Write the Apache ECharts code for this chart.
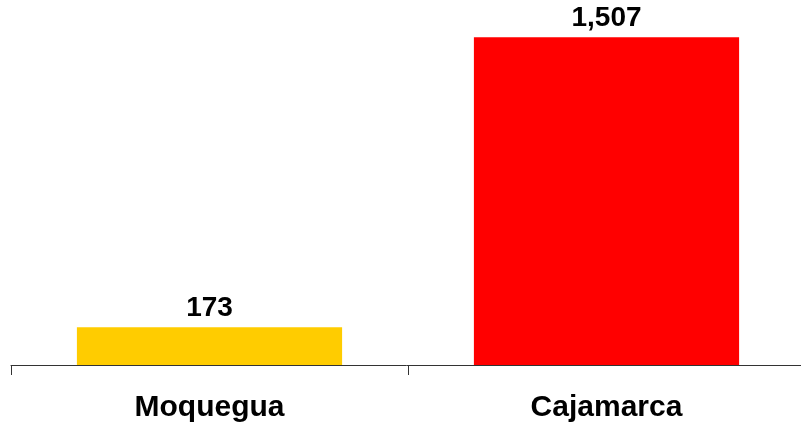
<!DOCTYPE html>
<html>
<head>
<meta charset="utf-8">
<script src="https://cdn.jsdelivr.net/npm/echarts@6/dist/echarts.min.js"></script>
<style>
html, body { margin: 0; padding: 0; background: #fff; }
#chart { width: 801px; height: 424px; }
</style>
</head>
<body>
<div id="chart"></div>
<script>
const categories = ['Moquegua', 'Cajamarca']
const values = [173, 1507]
const barColors = ['#FFCC00', '#FF0000']

const chart = echarts.init(document.getElementById('chart'))
chart.setOption({
    animation: false,
    grid: { left: 11, right: -4, top: 17, bottom: 59, outerBoundsMode: 'none', containLabel: false },
    xAxis: {
        type: 'category',
        data: categories,
        axisLine: { lineStyle: { color: '#333', width: 1 } },
        axisTick: { show: true, length: 10, lineStyle: { color: '#333' } },
        axisLabel: {
            margin: 28,
            color: '#000',
            fontFamily: 'Liberation Sans, Arial, sans-serif',
            fontWeight: 'bold',
            fontSize: 30
        }
    },
    yAxis: {
        type: 'value',
        min: 0,
        max: 1600,
        show: false,
        splitLine: { show: false }
    },
    series: [{
        type: 'bar',
        barWidth: '66.8%',
        data: values.map((v, i) => ({ value: v, itemStyle: { color: barColors[i] } })),
        label: {
            show: true,
            position: 'top',
            distance: 5,
            color: '#000',
            fontFamily: 'Liberation Sans, Arial, sans-serif',
            fontWeight: 'bold',
            fontSize: 28,
            formatter: p => p.value.toLocaleString('en-US')
        }
    }]
})
</script>
</body>
</html>
